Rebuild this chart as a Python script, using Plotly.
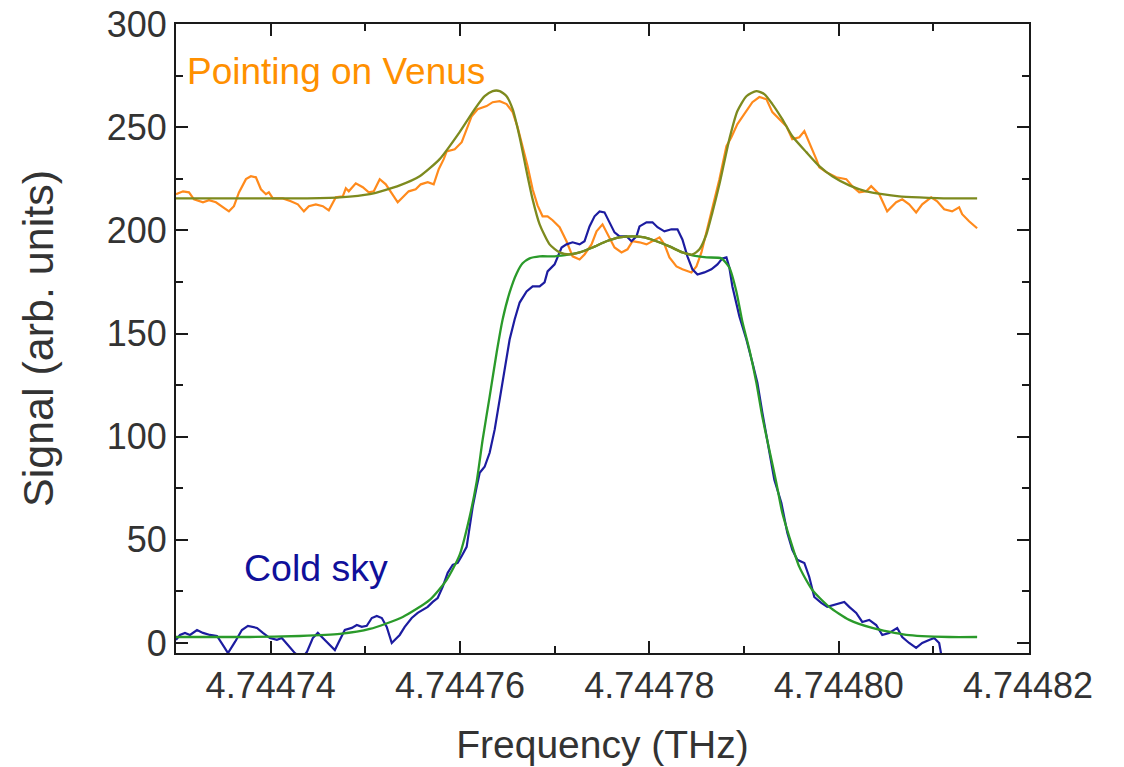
import plotly.graph_objects as go

# ---- data (frequency in THz, signal in arb. units) ----
venus_freq = [4.74473000, 4.74473074, 4.74473137, 4.74473190, 4.74473285, 4.74473348, 4.74473422, 4.74473496,
              4.74473559, 4.74473612, 4.74473665, 4.74473739, 4.74473791, 4.74473844, 4.74473897, 4.74473950,
              4.74473981, 4.74474023, 4.74474129, 4.74474213, 4.74474287, 4.74474351, 4.74474403, 4.74474477,
              4.74474551, 4.74474614, 4.74474688, 4.74474762, 4.74474794, 4.74474825, 4.74474899, 4.74474973,
              4.74475036, 4.74475089, 4.74475152, 4.74475216, 4.74475268, 4.74475342, 4.74475395, 4.74475458,
              4.74475532, 4.74475585, 4.74475659, 4.74475722, 4.74475775, 4.74475828, 4.74475859, 4.74475944,
              4.74476018, 4.74476070, 4.74476123, 4.74476186, 4.74476281, 4.74476345, 4.74476419, 4.74476492,
              4.74476556, 4.74476608, 4.74476661, 4.74476714, 4.74476767, 4.74476819, 4.74476872, 4.74476925,
              4.74476978, 4.74477052, 4.74477125, 4.74477189, 4.74477263, 4.74477315, 4.74477389, 4.74477442,
              4.74477505, 4.74477558, 4.74477632, 4.74477706, 4.74477769, 4.74477822, 4.74477896, 4.74477970,
              4.74478033, 4.74478107, 4.74478159, 4.74478212, 4.74478286, 4.74478349, 4.74478444, 4.74478497,
              4.74478550, 4.74478603, 4.74478666, 4.74478740, 4.74478814, 4.74478866, 4.74478930, 4.74479025,
              4.74479088, 4.74479162, 4.74479236, 4.74479299, 4.74479373, 4.74479447, 4.74479510, 4.74479584,
              4.74479637, 4.74479689, 4.74479763, 4.74479795, 4.74479869, 4.74479974, 4.74480080, 4.74480143,
              4.74480217, 4.74480291, 4.74480343, 4.74480428, 4.74480512, 4.74480607, 4.74480671, 4.74480744,
              4.74480818, 4.74480882, 4.74480977, 4.74481040, 4.74481114, 4.74481198, 4.74481272, 4.74481304,
              4.74481377, 4.74481462]
venus_signal = [217.5, 218.9, 218.4, 215.0, 213.6, 214.6, 213.6, 211.2,
                209.2, 211.7, 218.4, 224.8, 226.2, 225.7, 219.9, 217.5,
                218.4, 215.5, 215.5, 214.1, 212.6, 209.2, 211.7, 212.6,
                211.7, 209.7, 216.0, 216.5, 220.4, 218.9, 222.8, 220.9,
                218.4, 218.9, 224.8, 222.3, 218.9, 213.6, 216.0, 218.9,
                219.9, 222.3, 223.3, 222.3, 229.6, 234.5, 238.3, 239.3,
                242.7, 249.0, 255.3, 258.7, 260.2, 262.1, 262.6, 261.2,
                257.3, 250.0, 240.8, 231.1, 219.9, 212.1, 206.8, 206.8,
                204.9, 201.5, 194.7, 187.4, 185.9, 188.3, 193.2, 199.5,
                202.9, 198.1, 191.7, 189.3, 190.8, 194.7, 194.2, 193.2,
                194.7, 196.6, 193.2, 186.9, 182.5, 181.1, 179.6, 182.5,
                189.3, 199.5, 211.7, 224.8, 240.8, 245.1, 251.5, 257.8,
                262.1, 264.6, 263.6, 257.3, 253.9, 250.5, 244.2, 245.1,
                248.1, 242.7, 234.5, 230.6, 228.2, 225.7, 224.8, 221.4,
                218.4, 218.9, 221.4, 217.5, 209.2, 213.6, 215.0, 212.6,
                208.7, 212.6, 216.0, 214.1, 210.2, 209.2, 211.2, 207.8,
                204.4, 201.0]

sky_freq = [4.74473000, 4.74473042, 4.74473095, 4.74473148, 4.74473222, 4.74473285, 4.74473359, 4.74473433,
            4.74473496, 4.74473549, 4.74473623, 4.74473696, 4.74473760, 4.74473855, 4.74473918, 4.74473992,
            4.74474066, 4.74474118, 4.74474182, 4.74474256, 4.74474329, 4.74474382, 4.74474445, 4.74474498,
            4.74474551, 4.74474625, 4.74474678, 4.74474730, 4.74474783, 4.74474857, 4.74474910, 4.74474962,
            4.74475015, 4.74475068, 4.74475121, 4.74475174, 4.74475226, 4.74475279, 4.74475311, 4.74475363,
            4.74475416, 4.74475490, 4.74475553, 4.74475606, 4.74475659, 4.74475712, 4.74475764, 4.74475817,
            4.74475870, 4.74475923, 4.74475975, 4.74476018, 4.74476070, 4.74476102, 4.74476134, 4.74476176,
            4.74476208, 4.74476260, 4.74476313, 4.74476366, 4.74476419, 4.74476471, 4.74476524, 4.74476577,
            4.74476630, 4.74476703, 4.74476767, 4.74476841, 4.74476893, 4.74476925, 4.74476999, 4.74477073,
            4.74477125, 4.74477189, 4.74477263, 4.74477315, 4.74477368, 4.74477421, 4.74477474, 4.74477526,
            4.74477579, 4.74477632, 4.74477685, 4.74477759, 4.74477811, 4.74477864, 4.74477896, 4.74477970,
            4.74478033, 4.74478086, 4.74478159, 4.74478233, 4.74478297, 4.74478349, 4.74478402, 4.74478455,
            4.74478508, 4.74478581, 4.74478655, 4.74478719, 4.74478771, 4.74478814, 4.74478845, 4.74478877,
            4.74478951, 4.74479025, 4.74479088, 4.74479141, 4.74479193, 4.74479267, 4.74479320, 4.74479394,
            4.74479457, 4.74479510, 4.74479563, 4.74479637, 4.74479689, 4.74479742, 4.74479816, 4.74479879,
            4.74479953, 4.74480006, 4.74480059, 4.74480111, 4.74480185, 4.74480249, 4.74480322, 4.74480396,
            4.74480460, 4.74480533, 4.74480618, 4.74480671, 4.74480744, 4.74480818, 4.74480882, 4.74480955,
            4.74481008, 4.74481061, 4.74481103]
sky_signal = [1.5, 3.9, 4.9, 3.9, 6.3, 4.9, 3.9, 3.4,
              -1.0, -4.9, 0.5, 6.3, 8.3, 7.3, 4.9, 2.4,
              1.5, 2.4, -1.0, -4.9, -7.3, -4.4, 2.4, 4.9,
              2.4, -1.0, -3.4, 1.5, 6.3, 7.3, 8.7, 7.8,
              8.3, 12.1, 13.1, 12.1, 7.8, 0.0, 1.5, 3.9,
              7.8, 12.1, 14.6, 16.0, 17.5, 19.9, 21.8, 27.2,
              34.0, 37.9, 38.8, 42.2, 46.6, 56.3, 66.0, 75.7,
              82.5, 85.4, 92.2, 103.4, 118.0, 134.0, 147.1, 156.8,
              165.0, 170.4, 172.8, 172.8, 174.8, 180.1, 183.5, 191.7,
              193.2, 194.2, 193.2, 194.7, 201.9, 206.8, 209.2, 208.7,
              203.9, 199.0, 197.1, 197.1, 194.7, 197.1, 201.9, 203.9,
              203.9, 201.5, 199.5, 200.5, 200.5, 195.6, 187.4, 181.1,
              178.6, 179.6, 181.1, 183.5, 186.4, 186.9, 182.0, 172.8,
              158.3, 147.1, 135.9, 126.2, 111.7, 92.2, 79.1, 68.0,
              53.4, 45.1, 40.3, 38.8, 32.0, 22.3, 19.4, 17.5,
              18.4, 19.4, 19.9, 17.5, 14.6, 10.2, 11.2, 8.7,
              3.9, 4.9, 7.3, 2.9, 0.0, -2.4, 0.0, 1.5,
              2.4, 0.0, -10.7]

venus_fit_freq = [4.74473000, 4.74473781, 4.74474308, 4.74474730, 4.74475047, 4.74475363, 4.74475574, 4.74475785,
                  4.74475996, 4.74476155, 4.74476260, 4.74476345, 4.74476419, 4.74476492, 4.74476556, 4.74476630,
                  4.74476703, 4.74476767, 4.74476841, 4.74476946, 4.74477052, 4.74477157, 4.74477263, 4.74477400,
                  4.74477547, 4.74477685, 4.74477822, 4.74477948, 4.74478075, 4.74478212, 4.74478349, 4.74478455,
                  4.74478529, 4.74478603, 4.74478666, 4.74478740, 4.74478845, 4.74478930, 4.74479025, 4.74479130,
                  4.74479214, 4.74479299, 4.74479404, 4.74479510, 4.74479658, 4.74479795, 4.74479932, 4.74480111,
                  4.74480291, 4.74480460, 4.74480639, 4.74480850, 4.74481166, 4.74481462]
venus_fit_signal = [215.5, 215.5, 215.5, 216.0, 217.5, 221.8, 226.2, 234.5,
                    247.6, 258.7, 265.0, 267.5, 267.5, 265.0, 258.7, 245.1,
                    228.6, 215.0, 202.9, 193.2, 189.3, 188.3, 189.3, 191.7,
                    194.7, 196.6, 197.1, 196.6, 194.7, 192.2, 189.3, 188.3,
                    190.8, 198.1, 208.7, 222.3, 244.2, 257.8, 265.0, 267.5,
                    266.0, 261.2, 253.9, 245.6, 237.9, 231.1, 226.2, 221.8,
                    218.9, 217.5, 216.5, 216.0, 215.5, 215.5]

sky_fit_freq = [4.74473000, 4.74473781, 4.74474308, 4.74474730, 4.74475047, 4.74475395, 4.74475680, 4.74475859,
                4.74475996, 4.74476102, 4.74476176, 4.74476239, 4.74476313, 4.74476387, 4.74476450, 4.74476524,
                4.74476598, 4.74476661, 4.74476735, 4.74476841, 4.74476999, 4.74477157, 4.74477263, 4.74477400,
                4.74477547, 4.74477685, 4.74477822, 4.74477948, 4.74478075, 4.74478212, 4.74478349, 4.74478455,
                4.74478603, 4.74478761, 4.74478845, 4.74478919, 4.74478982, 4.74479056, 4.74479130, 4.74479193,
                4.74479267, 4.74479341, 4.74479404, 4.74479478, 4.74479584, 4.74479721, 4.74479900, 4.74480111,
                4.74480354, 4.74480713, 4.74481166, 4.74481462]
sky_fit_signal = [2.9, 2.9, 3.4, 4.4, 6.8, 12.6, 20.9, 30.6,
                  42.7, 61.2, 78.2, 98.5, 119.4, 140.8, 156.8, 169.9,
                  179.1, 184.0, 186.4, 187.4, 187.4, 188.3, 189.3, 191.7,
                  194.7, 196.6, 197.1, 196.6, 194.7, 192.2, 189.3, 187.9,
                  186.9, 186.4, 182.0, 170.4, 155.8, 142.2, 126.2, 109.7,
                  93.7, 77.7, 63.1, 51.5, 36.9, 25.7, 17.5, 11.2,
                  7.3, 3.9, 2.9, 2.9]

x_tick_vals = [4.74474, 4.74476, 4.74478, 4.74480, 4.74482]
x_tick_text = ["4.74474", "4.74476", "4.74478", "4.74480", "4.74482"]
y_tick_vals = [0, 50, 100, 150, 200, 250, 300]

# ---- figure ----
FONT = "Liberation Sans, Arial, sans-serif"
fig = go.Figure()
fig.add_trace(go.Scatter(x=venus_freq, y=venus_signal, mode="lines",
                         line=dict(color="#ff8a1c", width=2.2), showlegend=False))
fig.add_trace(go.Scatter(x=sky_freq, y=sky_signal, mode="lines",
                         line=dict(color="#1c1ca0", width=2.2), showlegend=False))
fig.add_trace(go.Scatter(x=sky_fit_freq, y=sky_fit_signal, mode="lines",
                         line=dict(color="#2a9a2a", width=2.3, shape="spline", smoothing=0.6),
                         showlegend=False))
fig.add_trace(go.Scatter(x=venus_fit_freq, y=venus_fit_signal, mode="lines",
                         line=dict(color="#7d8a1e", width=2.3, shape="spline", smoothing=0.6),
                         showlegend=False))

fig.add_annotation(x=4.744731, y=277, xref="x", yref="y", text="Pointing on Venus",
                   showarrow=False, xanchor="left", yanchor="middle",
                   font=dict(family=FONT, size=37, color="#ff9000"))
fig.add_annotation(x=4.744737, y=36.4, xref="x", yref="y", text="Cold sky",
                   showarrow=False, xanchor="left", yanchor="middle",
                   font=dict(family=FONT, size=37.5, color="#10109a"))

axis_common = dict(showline=True, linecolor="#1a1a1a", linewidth=2, mirror="ticks",
                   ticks="inside", ticklen=12, tickwidth=2, tickcolor="#1a1a1a",
                   showgrid=False, zeroline=False, automargin=False,
                   tickfont=dict(family=FONT, size=36, color="#333333"))

fig.update_xaxes(range=[4.74473, 4.7448201], tickmode="array", tickvals=x_tick_vals,
                 ticktext=x_tick_text,
                 minor=dict(ticks="inside", ticklen=7, tickwidth=2, tickcolor="#1a1a1a",
                            dtick=0.00001, tick0=4.74473, showgrid=False),
                 title=dict(text="Frequency (THz)", font=dict(family=FONT, size=39, color="#333333"),
                            standoff=25),
                 **axis_common)
fig.update_yaxes(range=[-4.85, 300], tickmode="array", tickvals=y_tick_vals,
                 minor=dict(ticks="inside", ticklen=7, tickwidth=2, tickcolor="#1a1a1a",
                            dtick=25, tick0=0, showgrid=False),
                 title=dict(text="Signal (arb. units)", font=dict(family=FONT, size=43, color="#333333"),
                            standoff=40),
                 **axis_common)

fig.update_layout(width=1124, height=767, paper_bgcolor="white", plot_bgcolor="white",
                  margin=dict(l=176, r=95, t=24, b=114), showlegend=False)

fig.write_html("out.html")
